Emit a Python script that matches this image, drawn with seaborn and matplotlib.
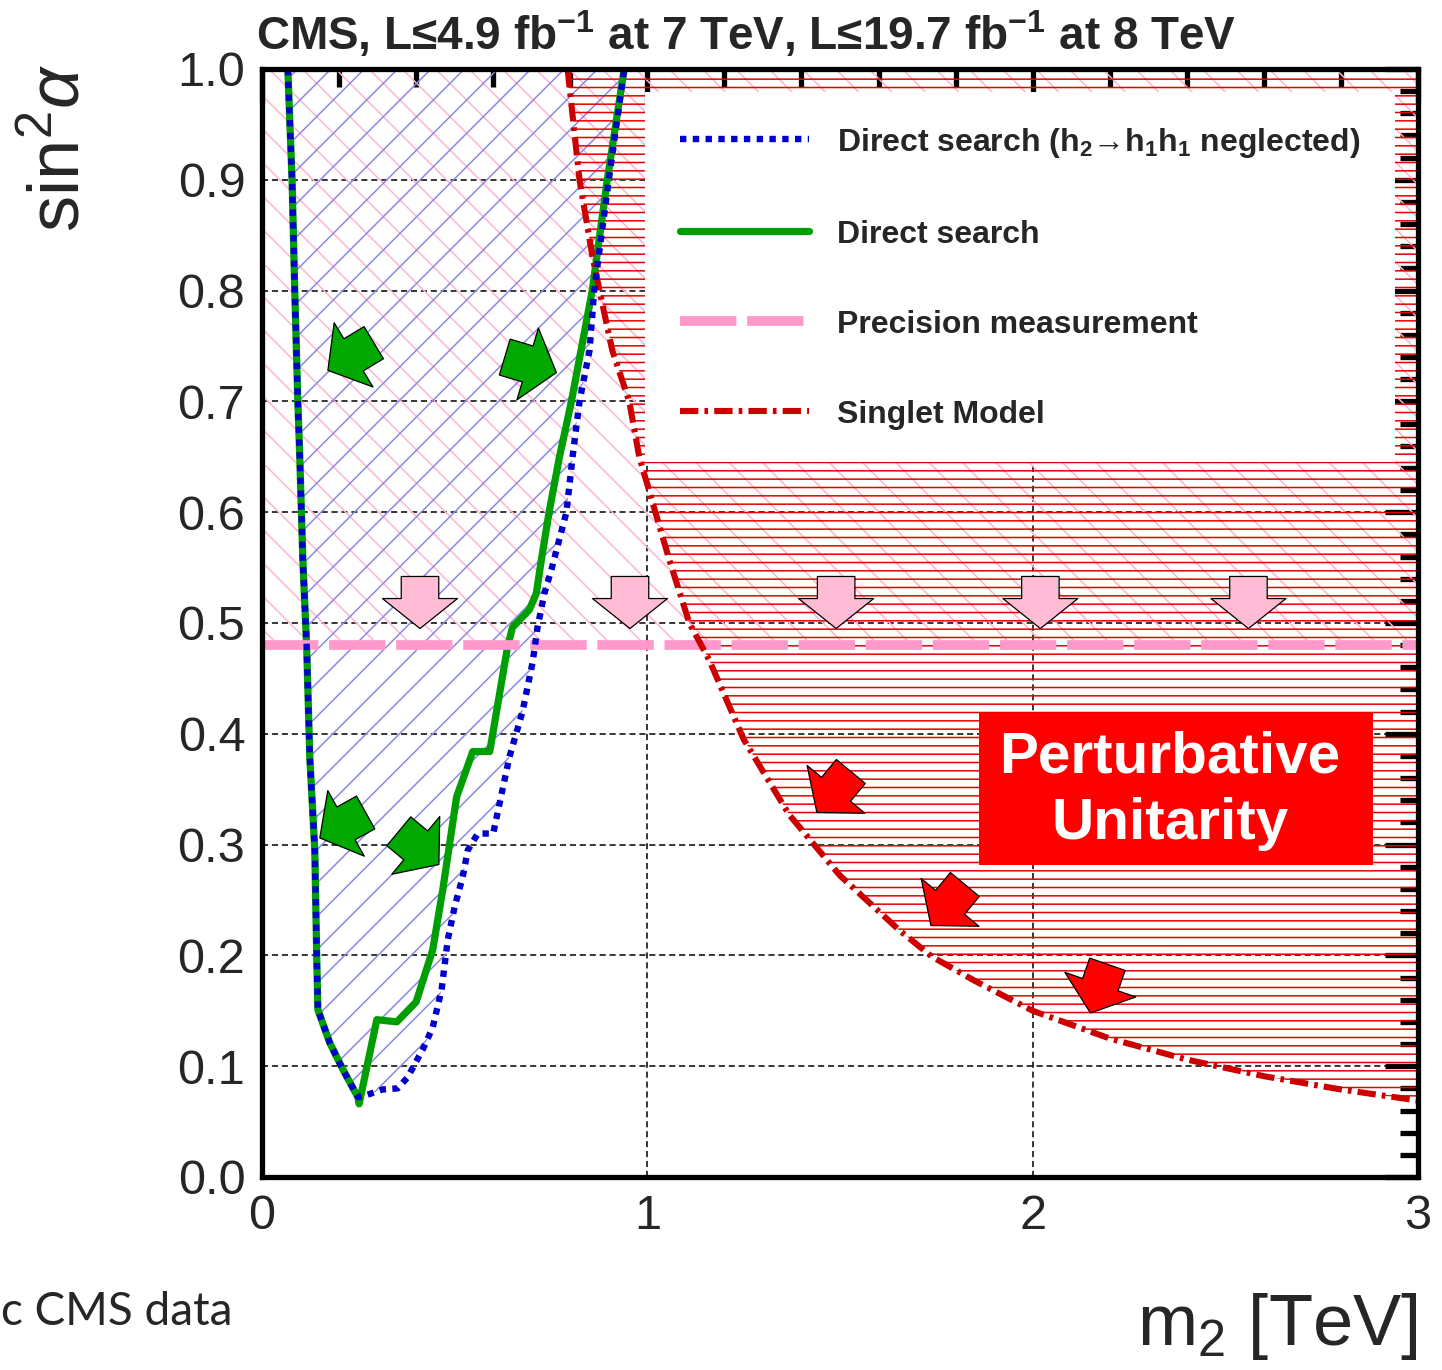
import numpy as np
import matplotlib
matplotlib.use('Agg')
import matplotlib.pyplot as plt
from matplotlib.patches import Rectangle
from matplotlib.ticker import MultipleLocator, FormatStrFormatter
import seaborn as sns

# ---- data ----
# left edge of the excluded band (shared by both direct-search curves), top -> bottom
left_x = [0.067, 0.078, 0.085, 0.093, 0.098, 0.106, 0.116, 0.124, 0.137, 0.142,
          0.145, 0.176, 0.210, 0.249]
left_y = [1.000, 0.900, 0.800, 0.700, 0.650, 0.557, 0.478, 0.379, 0.295, 0.199,
          0.151, 0.121, 0.097, 0.072]

# right edge, direct search (green), bottom -> top
green_x = [0.252, 0.298, 0.350, 0.400, 0.443, 0.469, 0.505, 0.547, 0.591, 0.637,
           0.650, 0.694, 0.712, 0.725, 0.745, 0.772, 0.803, 0.857, 0.896, 0.940]
green_y = [0.066, 0.142, 0.140, 0.158, 0.205, 0.259, 0.343, 0.384, 0.384, 0.478,
           0.496, 0.512, 0.527, 0.557, 0.600, 0.650, 0.700, 0.800, 0.900, 1.000]

# right edge, direct search with h2->h1h1 neglected (blue), bottom -> top
blue_x = [0.249, 0.272, 0.313, 0.352, 0.378, 0.417, 0.443, 0.466, 0.482, 0.500,
          0.521, 0.534, 0.560, 0.600, 0.642, 0.676, 0.702, 0.715, 0.733, 0.751,
          0.790, 0.806, 0.824, 0.850, 0.862, 0.900, 0.940]
blue_y = [0.072, 0.074, 0.079, 0.080, 0.090, 0.115, 0.135, 0.169, 0.214, 0.244,
          0.271, 0.295, 0.310, 0.310, 0.379, 0.420, 0.464, 0.496, 0.527, 0.548,
          0.600, 0.650, 0.700, 0.746, 0.800, 0.900, 1.000]

# singlet model / perturbative unitarity bound
singlet_x = [0.793, 0.824, 0.858, 0.876, 0.909, 0.953, 0.979, 1.057, 1.109, 1.160,
             1.250, 1.368, 1.500, 1.653, 1.738, 1.850, 2.000, 2.200, 2.400, 2.600,
             2.800, 3.000]
singlet_y = [1.000, 0.900, 0.830, 0.800, 0.746, 0.700, 0.650, 0.557, 0.500, 0.467,
             0.395, 0.327, 0.272, 0.223, 0.199, 0.177, 0.150, 0.125, 0.106, 0.091,
             0.079, 0.069]

# precision measurement
precision_x = [0.0, 3.0]
precision_y = [0.48, 0.48]

# annotation arrows (tail -> tip)
green_arrow_tail = [(0.290, 0.753), (0.630, 0.740), (0.269, 0.329), (0.355, 0.312)]
green_arrow_tip = [(0.171, 0.728), (0.764, 0.726), (0.150, 0.306), (0.459, 0.282)]
pink_arrow_x = [0.41, 0.955, 1.49, 2.02, 2.56]
pink_arrow_y = (0.542, 0.495)
red_arrow_tail = [(1.528, 0.366), (1.824, 0.264), (2.194, 0.192)]
red_arrow_tip = [(1.440, 0.329), (1.736, 0.227), (2.150, 0.148)]

legend_labels = [r'Direct search (h$_\mathbf{2}$→h$_\mathbf{1}$h$_\mathbf{1}$ neglected)',
                 'Direct search', 'Precision measurement', 'Singlet Model']

# ---- style ----
sns.set_style('white')
plt.rcParams['font.family'] = ['Liberation Sans', 'DejaVu Sans']
plt.rcParams['mathtext.fontset'] = 'custom'
plt.rcParams['mathtext.rm'] = 'Liberation Sans'
plt.rcParams['mathtext.it'] = 'Liberation Sans:italic'
plt.rcParams['mathtext.bf'] = 'Liberation Sans:bold'
plt.rcParams['hatch.linewidth'] = 1.1

fig = plt.figure(figsize=(14.42, 13.70), dpi=100)
ax = fig.add_axes([262 / 1442, 1 - 1177 / 1370, 1156 / 1442, 1108 / 1370])

# hatched areas
ax.fill_between(precision_x, precision_y, 1.0, facecolor='none',
                edgecolor='#ffb3d1', hatch='\\', linewidth=0, zorder=1)
ax.fill(left_x + blue_x, left_y + blue_y, facecolor='none',
        edgecolor='#8a8ae6', hatch='/', linewidth=0, zorder=1.2)
ax.fill_between(singlet_x, singlet_y, 1.0, facecolor='none',
                edgecolor='#e60000', hatch='--', linewidth=0, zorder=1.4)

# white legend box
ax.add_patch(Rectangle((0.331, 0.645), 0.649, 0.334, transform=ax.transAxes,
                       facecolor='white', edgecolor='none', zorder=3))

# curves (green under the blue dots, as in the original)
sns.lineplot(x=left_x + green_x, y=left_y + green_y, sort=False,
             estimator=None, color='#009e00', linewidth=5.2, zorder=4, ax=ax)
line_green = ax.lines[-1]
sns.lineplot(x=left_x + blue_x, y=left_y + blue_y, sort=False, estimator=None,
             color='#0000cc', linewidth=4.6, linestyle=(0, (1, 1.0)),
             zorder=4.2, ax=ax)
line_blue = ax.lines[-1]
sns.lineplot(x=precision_x, y=precision_y, sort=False, estimator=None,
             color='#ff99cc', linewidth=7.0, linestyle=(0, (5.8, 1.1)),
             zorder=4.1, ax=ax)
line_pink = ax.lines[-1]
sns.lineplot(x=singlet_x, y=singlet_y, sort=False, estimator=None,
             color='#cc0000', linewidth=4.4, linestyle=(0, (3, 1, 0.6, 1)),
             zorder=4.1, ax=ax)
line_red = ax.lines[-1]

leg = ax.legend([line_blue, line_green, line_pink, line_red], legend_labels,
                loc='upper left', bbox_to_anchor=(0.3616, 0.949), frameon=False,
                prop={'size': 23, 'weight': 'bold'}, handlelength=4.05,
                handletextpad=0.85, labelspacing=1.88, borderpad=0, borderaxespad=0)
leg.set_zorder(5)

# arrows
def block_arrow(tail, tip, color):
    ax.annotate('', xy=tip, xytext=tail, xycoords='data', zorder=6,
                arrowprops=dict(arrowstyle='simple,head_length=0.4,head_width=1.0,tail_width=0.5',
                                mutation_scale=54, facecolor=color, edgecolor='black',
                                linewidth=0.9, shrinkA=0, shrinkB=0))

for tail, tip in zip(green_arrow_tail, green_arrow_tip):
    block_arrow(tail, tip, '#00a800')
for xa in pink_arrow_x:
    block_arrow((xa, pink_arrow_y[0]), (xa, pink_arrow_y[1]), '#ffbcd4')
for tail, tip in zip(red_arrow_tail, red_arrow_tip):
    block_arrow(tail, tip, '#ff0000')

# perturbative unitarity label
ax.add_patch(Rectangle((1.860, 0.2816), 1.023, 0.1372, facecolor='#ff0000',
                       edgecolor='none', zorder=6))
ax.text(2.356, 0.349, 'Perturbative\nUnitarity', ha='center', va='center',
        color='white', fontsize=42, fontweight='bold', linespacing=1.3, zorder=7)

# axes
ax.set_xlim(0, 3)
ax.set_ylim(0, 1)
ax.xaxis.set_major_locator(MultipleLocator(1))
ax.xaxis.set_minor_locator(MultipleLocator(0.2))
ax.yaxis.set_major_locator(MultipleLocator(0.1))
ax.yaxis.set_minor_locator(MultipleLocator(0.02))
ax.xaxis.set_major_formatter(FormatStrFormatter('%d'))
ax.yaxis.set_major_formatter(FormatStrFormatter('%.1f'))
ax.tick_params(which='both', direction='in', top=True, right=True,
               color='black', width=3.8, labelsize=35, pad=12)
ax.tick_params(which='major', length=24)
ax.tick_params(which='minor', length=13)
ax.grid(True, which='major', color='black', linestyle=(0, (4, 2.5)), linewidth=1.1)
for sp in ax.spines.values():
    sp.set_linewidth(3.8)
    sp.set_color('black')
    sp.set_zorder(8)

ax.set_title(r'CMS, L≤4.9 fb$^{\mathbf{-1}}$ at 7 TeV, L≤19.7 fb$^{\mathbf{-1}}$ at 8 TeV',
             loc='left', fontsize=33, fontweight='bold', pad=14, x=-0.005)

fig.text(60 / 1442, 1 - 148 / 1370, r'sin$^2\alpha$', rotation=90,
         ha='center', va='center', fontsize=52)
fig.text(1418 / 1442, 1 - 1345 / 1370, r'm$_2$ [TeV]', ha='right',
         va='baseline', fontsize=52)
fig.text(0.001, 1 - 1325 / 1370, 'c CMS data', ha='left', va='baseline',
         fontsize=33, family=['Lato', 'DejaVu Sans'])

fig.savefig('out.png', dpi=100)
